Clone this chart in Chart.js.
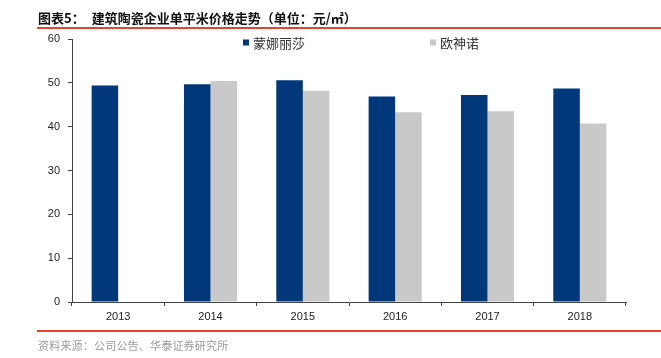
<!DOCTYPE html>
<html>
<head>
<meta charset="utf-8">
<script src="https://cdn.jsdelivr.net/npm/chart.js@4/dist/chart.umd.min.js"></script>
<style>
  html, body { margin: 0; padding: 0; background: #fff; }
  #wrap { position: relative; width: 661px; height: 358px; overflow: hidden; }
  #c { position: absolute; left: 0; top: 0; }
  .title { position: absolute; left: 38px; top: 9px; font: bold 13px "Noto Sans CJK SC", sans-serif; color: #111; white-space: nowrap; line-height: 18px; }
  .title .t2 { margin-left: 7px; }
  .src { position: absolute; left: 38px; top: 338px; font: 11px "Noto Sans CJK SC", sans-serif; color: #9a9a9a; white-space: nowrap; line-height: 15px; letter-spacing: 0.2px; }
  .rule { position: absolute; left: 37px; right: 0; height: 2px; background: #e2452f; }
</style>
</head>
<body>
<div id="wrap">
  <canvas id="c" width="661" height="358"></canvas>
  <div class="title"><span>图表5：</span><span class="t2">建筑陶瓷企业单平米价格走势（单位：元/㎡）</span></div>
  <div class="rule" style="top:27px;"></div>
  <div class="rule" style="top:330px;height:1.5px;"></div>
  <div class="src">资料来源：公司公告、华泰证券研究所</div>
</div>
<script>
const categories = ["2013", "2014", "2015", "2016", "2017", "2018"];
const seriesNames = ["蒙娜丽莎", "欧神诺"];
const monalisa = [49.4, 49.7, 50.6, 46.9, 47.2, 48.7];
const oceano = [null, 50.4, 48.2, 43.3, 43.5, 40.7];
const yTicks = [0, 10, 20, 30, 40, 50, 60];
const colors = ["#00387a", "#c9c9c9"];

const legendPlugin = {
  id: 'customLegend',
  afterDraw(chart) {
    const ctx = chart.ctx;
    const xs = [243, 430];
    ctx.save();
    ctx.font = '13px "Noto Sans CJK SC", sans-serif';
    ctx.textBaseline = 'middle';
    chart.data.datasets.forEach((ds, i) => {
      ctx.fillStyle = ds.backgroundColor;
      ctx.fillRect(xs[i], 39.5, 6, 6);
      ctx.fillStyle = '#333';
      ctx.fillText(ds.label, xs[i] + 10, 43);
    });
    ctx.restore();
  }
};

new Chart(document.getElementById('c'), {
  type: 'bar',
  data: {
    labels: categories,
    datasets: [
      { label: seriesNames[0], data: monalisa, backgroundColor: colors[0], categoryPercentage: 0.575, barPercentage: 1.0 },
      { label: seriesNames[1], data: oceano, backgroundColor: colors[1], categoryPercentage: 0.575, barPercentage: 1.0 }
    ]
  },
  options: {
    responsive: false,
    animation: false,
    events: [],
    layout: { padding: { left: 0, right: 35, top: 39, bottom: 0 } },
    plugins: { legend: { display: false }, tooltip: { enabled: false } },
    scales: {
      x: {
        afterFit(scale) { scale.height = 56; },
        border: { display: true, color: '#444', width: 1 },
        grid: { display: true, offset: true, drawOnChartArea: false, drawTicks: true, tickLength: 4, color: '#444' },
        ticks: { color: '#222', font: { family: '"Liberation Sans", Arial, sans-serif', size: 11 }, padding: 4 }
      },
      y: {
        min: 0, max: 60,
        afterFit(scale) { scale.width = 72; },
        afterBuildTicks(scale) { scale.ticks = yTicks.map(v => ({ value: v })); },
        border: { display: true, color: '#444', width: 1 },
        grid: { display: true, drawOnChartArea: false, drawTicks: true, tickLength: 4, color: '#444' },
        ticks: { color: '#222', font: { family: '"Liberation Sans", Arial, sans-serif', size: 11 }, padding: 8 }
      }
    }
  },
  plugins: [legendPlugin]
});
</script>
</body>
</html>
